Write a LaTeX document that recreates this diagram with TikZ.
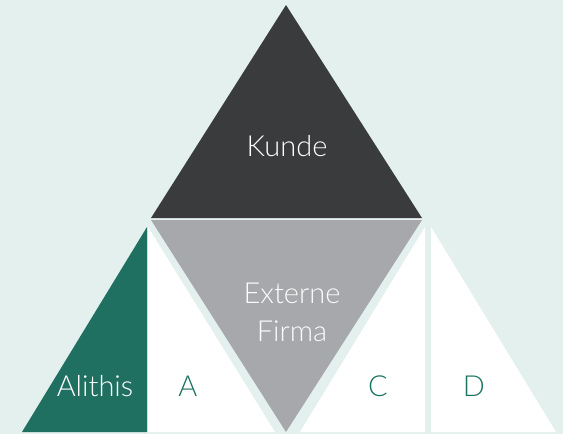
\documentclass[tikz,border=0pt]{standalone}
\usepackage{fontspec}
\setmainfont{Lato}[UprightFont=* Light]
\usetikzlibrary{positioning}
\definecolor{bgmint}{HTML}{E3F0EE}
\definecolor{kundedark}{HTML}{3A3B3D}
\definecolor{firmagray}{HTML}{A7A8AB}
\definecolor{alithisgreen}{HTML}{207062}
\definecolor{lettergreen}{HTML}{1A7462}

\begin{document}
\begin{tikzpicture}[x = 1pt, y = -1pt,
  lbl/.style = {font=\fontsize{29}{37}\selectfont, inner sep=0pt, anchor=base}]
\fill[bgmint] (0,0) rectangle (563,434);
\useasboundingbox (0,0) rectangle (563,434);

% top and middle
\fill[kundedark] (286,5) -- (422,218) -- (151,218) -- cycle;
\fill[firmagray] (151,220) -- (422,220) -- (286,432) -- cycle;

% bottom left
\fill[alithisgreen] (147,227) -- (147,432) -- (22,432) -- cycle;
\fill[white] (148,227) -- (148,432) -- (275,432) -- cycle;

% bottom right
\fill[white] (425,227) -- (425,432) -- (300,432) -- cycle;
\fill[white] (431,227) -- (431,432) -- (556,432) -- cycle;

\node[lbl, text=white] (kunde) at (287,156) {Kunde};
\node[lbl, text=white!95!firmagray] (externe) at (292,303) {Externe};
\node[lbl, text=white!95!firmagray] (firma) at (292,341) {Firma};
\node[lbl, text=white] (alithis) at (95,396) {Alithis};
\node[lbl, text=lettergreen] (a) at (188,396) {A};
\node[lbl, text=lettergreen] (c) at (378,396) {C};
\node[lbl, text=lettergreen] (d) at (474,396) {D};

\end{tikzpicture}
\end{document}
